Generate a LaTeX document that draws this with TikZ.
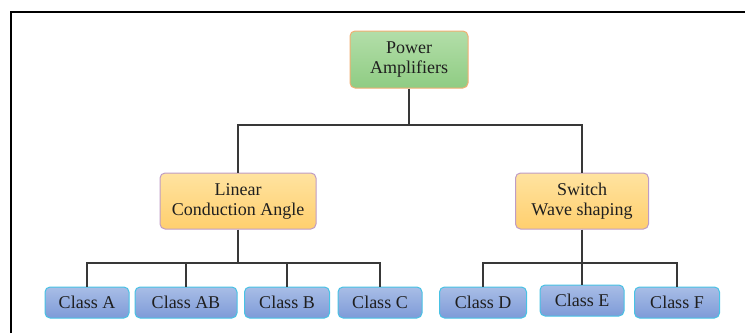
\documentclass[tikz,border=0pt]{standalone}
\usepackage{fontspec}
\setmainfont{Liberation Serif}
\definecolor{greenTop}{HTML}{B3DEA9}
\definecolor{greenBot}{HTML}{8FCC83}
\definecolor{greenEdge}{HTML}{F2AE72}
\definecolor{sandTop}{HTML}{FFE3A0}
\definecolor{sandBot}{HTML}{FFCF6E}
\definecolor{sandEdge}{HTML}{BE9CC6}
\definecolor{blueTop}{HTML}{A8BDE6}
\definecolor{blueBot}{HTML}{7E9BD8}
\definecolor{blueEdge}{HTML}{47C2E4}
\begin{document}
\begin{tikzpicture}[x=1pt,y=-1pt,
  box/.style={rounded corners=5pt, line width=1pt, align=center,
    font=\fontsize{18}{20}\selectfont, text=black!88, inner sep=0pt},
  rootbox/.style={box, draw=greenEdge, top color=greenTop, bottom color=greenBot,
    minimum width=118pt, minimum height=57pt},
  midbox/.style={box, draw=sandEdge, top color=sandTop, bottom color=sandBot,
    minimum height=56pt},
  leafbox/.style={box, draw=blueEdge, top color=blueTop, bottom color=blueBot,
    minimum height=31pt},
  wire/.style={draw=black!78, line width=2pt}]
\useasboundingbox (0,0) rectangle (745,333);
% outer frame, top and left edges only
\draw[line width=2pt] (11,333) -- (11,12) -- (745,12);

% top level
\node[rootbox] (pa) at (409,59.5) {Power\\Amplifiers};

% second level
\node[midbox, minimum width=156pt] (lin) at (238,201) {Linear\\Conduction Angle};
\node[midbox, minimum width=133pt] (sw) at (582,201) {Switch\\Wave shaping};

% leaves
\node[leafbox, minimum width=84pt] (ca) at (87,302.5) {Class A};
\node[leafbox, minimum width=102pt] (cab) at (186,302.5) {Class AB};
\node[leafbox, minimum width=85pt] (cb) at (287,302.5) {Class B};
\node[leafbox, minimum width=84pt] (cc) at (380,302.5) {Class C};
\node[leafbox, minimum width=87pt] (cd) at (483,302.5) {Class D};
\node[leafbox, minimum width=84pt] (ce) at (582,300.5) {Class E};
\node[leafbox, minimum width=85pt] (cf) at (677,302.5) {Class F};

% connectors
\coordinate (j1) at (409,125);
\coordinate (j2) at (238,263);
\coordinate (j3) at (582,263);
\draw[wire] (pa.south) -- (j1);
\draw[wire] (lin.north) |- (j1) -| (sw.north);
\draw[wire] (lin.south) -- (j2);
\draw[wire] (ca.north) |- (j2) -| (cc.north);
\draw[wire] (cab.north) -- (cab.north |- j2);
\draw[wire] (cb.north) -- (cb.north |- j2);
\draw[wire] (sw.south) -- (j3);
\draw[wire] (cd.north) |- (j3) -| (cf.north);
\draw[wire] (ce.north) -- (ce.north |- j3);
\end{tikzpicture}
\end{document}
